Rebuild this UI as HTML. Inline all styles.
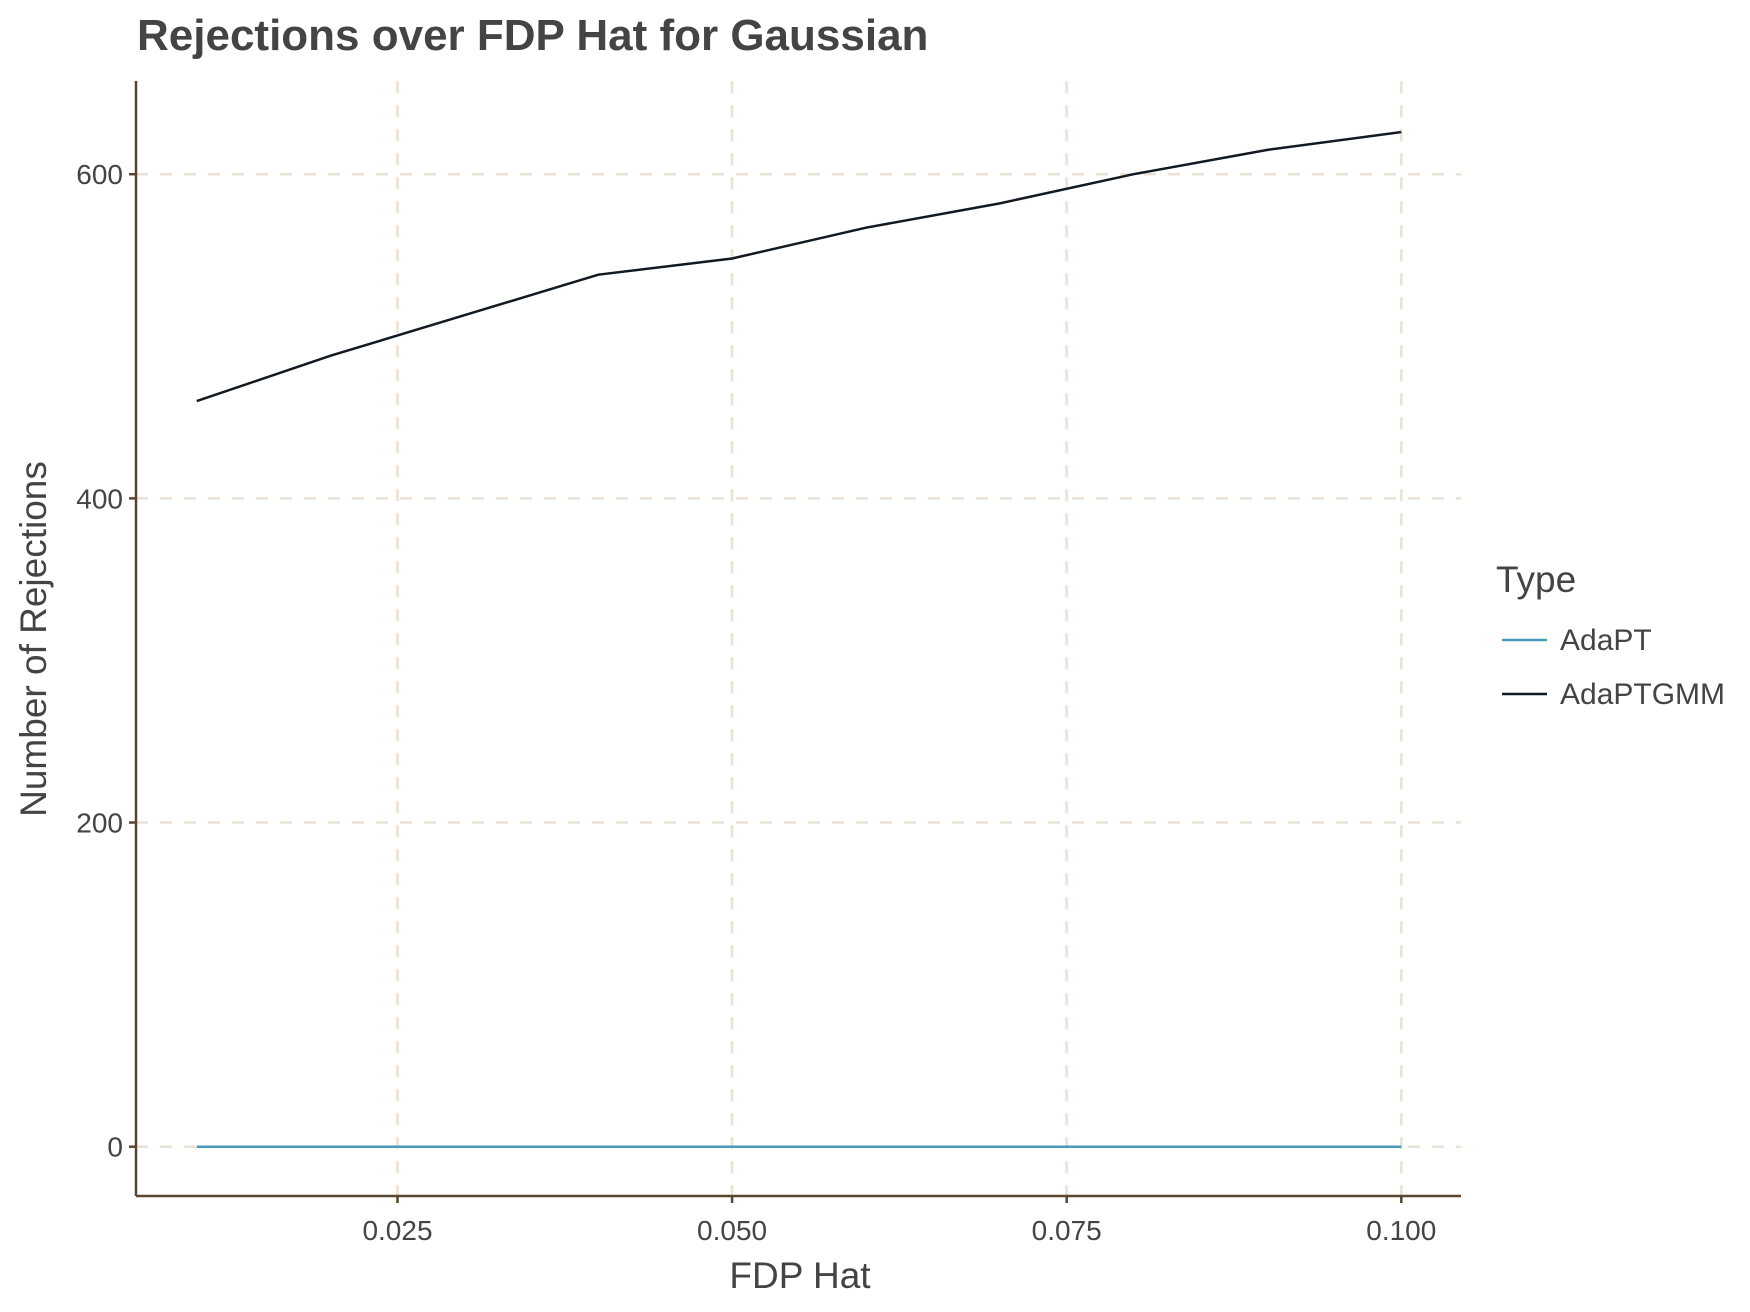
<!DOCTYPE html>
<html><head><meta charset="utf-8"><style>
html,body{margin:0;padding:0;background:#fff;}
svg{display:block;font-family:"Liberation Sans",Arial,sans-serif;}
</style></head><body>
<svg id="chart" width="1750" height="1312" viewBox="0 0 1750 1312">
<text x="137" y="50" font-size="44" font-weight="bold" fill="#444">Rejections over FDP Hat for Gaussian</text>
<g id="grid"></g>
<g id="axes"></g>
<g id="series"></g>
<text x="800" y="1288" font-size="37" fill="#444" text-anchor="middle">FDP Hat</text>
<text x="0" y="0" font-size="37" fill="#444" text-anchor="middle" transform="translate(46,639) rotate(-90)">Number of Rejections</text>
<g>
<text x="1496" y="592" font-size="37" fill="#444">Type</text>
<line x1="1502" y1="640" x2="1547" y2="640" stroke="#4a9aba" stroke-width="2.5"/>
<text x="1560" y="650" font-size="30" fill="#444">AdaPT</text>
<line x1="1502" y1="694" x2="1547" y2="694" stroke="#111a22" stroke-width="2.5"/>
<text x="1560" y="704" font-size="30" fill="#444">AdaPTGMM</text>
</g>
</svg>
<script>
const xValues=[0.01,0.02,0.03,0.04,0.05,0.06,0.07,0.08,0.09,0.10];
const adaptValues=[0,0,0,0,0,0,0,0,0,0];
const adaptgmmValues=[460,488,513,538,548,567,582,600,615,626];
const xTicks=[0.025,0.050,0.075,0.100];
const xTickLabels=["0.025","0.050","0.075","0.100"];
const yTicks=[0,200,400,600];
const yTickLabels=["0","200","400","600"];
const L=136,R=1461,T=81,B=1196;
function xs(v){return 397.5+(v-0.025)*(1003.8/0.075);}
function ys(v){return 1146.7-v*(972.5/600);}
const NS="http://www.w3.org/2000/svg";
function mk(tag,attrs,parent){const e=document.createElementNS(NS,tag);for(const k in attrs)e.setAttribute(k,attrs[k]);parent.appendChild(e);return e;}
const grid=document.getElementById('grid'),axes=document.getElementById('axes'),series=document.getElementById('series');
xTicks.forEach((t,i)=>{
 const g=mk('line',{x1:xs(t),x2:xs(t),y1:T,y2:B,stroke:'#ebe1d4','stroke-width':2.5,'stroke-dasharray':'12,12'},grid);
 
 
 const tk=mk('line',{x1:xs(t),x2:xs(t),y1:B,y2:B+7,stroke:'#5a4630','stroke-width':2.5},axes);
 
 
 const lb=mk('text',{x:xs(t),y:1240,'font-size':28,fill:'#444','text-anchor':'middle'},axes);
 lb.textContent=xTickLabels[i];
 
 
});
yTicks.forEach((t,i)=>{
 const g=mk('line',{x1:L,x2:R,y1:ys(t),y2:ys(t),stroke:'#ebe1d4','stroke-width':2.5,'stroke-dasharray':'12,12'},grid);
 
 
 const tk=mk('line',{x1:L-7,x2:L,y1:ys(t),y2:ys(t),stroke:'#5a4630','stroke-width':2.5},axes);
 
 
 const lb=mk('text',{x:123,y:ys(t)+10,'font-size':28,fill:'#444','text-anchor':'end'},axes);
 lb.textContent=yTickLabels[i];
 
 
});
const ya=mk('line',{x1:L,x2:L,y1:T,y2:B,stroke:'#5a4630','stroke-width':2.5},axes);


const xa=mk('line',{x1:L,x2:R,y1:B,y2:B,stroke:'#5a4630','stroke-width':2.5},axes);


function pts(vals){return xValues.map((x,i)=>xs(x)+','+ys(vals[i])).join(' ');}
const l1=mk('polyline',{points:pts(adaptValues),fill:'none',stroke:'#4a9aba','stroke-width':2.5},series);


const l2=mk('polyline',{points:pts(adaptgmmValues),fill:'none',stroke:'#111a22','stroke-width':2.5},series);


</script>
</body></html>
